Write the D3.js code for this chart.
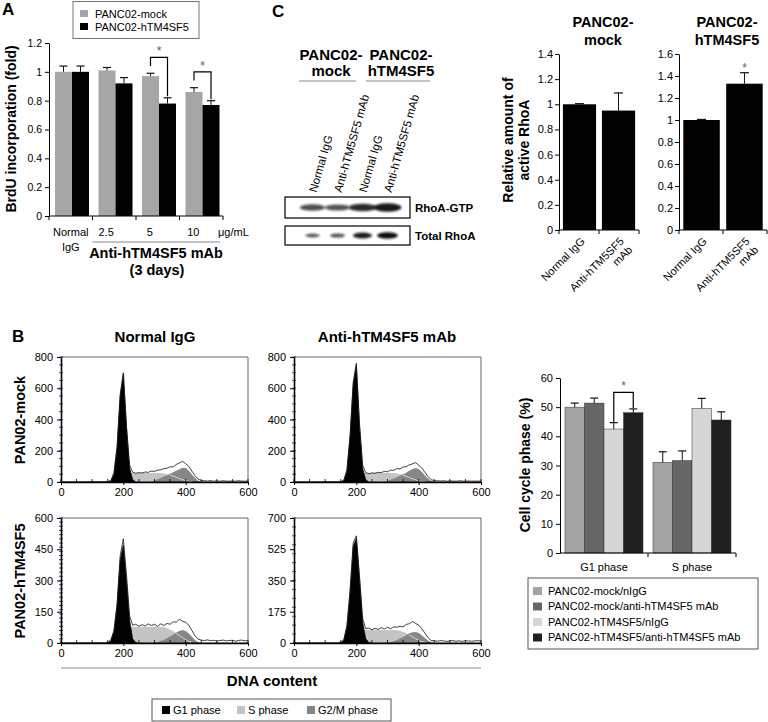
<!DOCTYPE html>
<html><head><meta charset="utf-8">
<script src="https://cdn.jsdelivr.net/npm/d3@7"></script>
<style>body{margin:0;background:#fff}svg{display:block}</style>
</head><body>
<svg id="c" width="768" height="722"></svg>
<script>
// ================= DATA =================
// Panel A
const brduGroups = ["Normal IgG", "2.5", "5", "10"];
const brduSeries = ["PANC02-mock", "PANC02-hTM4SF5"];
const brduMock = [1.00, 1.01, 0.97, 0.86];
const brduMockErr = [0.04, 0.02, 0.02, 0.03];
const brduHtm = [1.00, 0.92, 0.78, 0.77];
const brduHtmErr = [0.04, 0.04, 0.04, 0.03];
const brduTicks = [0, 0.2, 0.4, 0.6, 0.8, 1, 1.2];
const brduSig = ["5", "10"];

// Panel C
const blotLanes = ["mock-IgG", "mock-mAb", "hTM-IgG", "hTM-mAb"];
const blotLaneLabels = ["Normal IgG", "Anti-hTM5SF5 mAb", "Normal IgG", "Anti-hTM5SF5 mAb"];
const blotGtp = [0.55, 0.5, 0.85, 1.0];
const blotTotal = [0.35, 0.4, 0.85, 1.0];
const rhoaCats = ["Normal IgG", "Anti-hTM5SF5 mAb"];
const rhoaCatLines = [["Normal IgG"], ["Anti-hTM5SF5", "mAb"]];
const rhoaMock = [1.00, 0.95];
const rhoaMockErr = [0.005, 0.14];
const rhoaHtm = [1.00, 1.33];
const rhoaHtmErr = [0.005, 0.10];
const rhoaMockTicks = [0, 0.2, 0.4, 0.6, 0.8, 1, 1.2, 1.4];
const rhoaHtmTicks = [0, 0.2, 0.4, 0.6, 0.8, 1, 1.2, 1.4, 1.6];

// Panel B histograms (DNA content bins)
const dnaBins = [0,140,150,160,170,180,190,200,210,220,230,240,250,260,270,280,290,300,310,320,330,340,350,360,370,380,390,400,410,420,430,440,450,460,470,480,490,500,510,520,530,540,550,560,570,580,590,600];
const dnaTicks = [0, 200, 400, 600];
const histTicksMock = [0, 200, 400, 600, 800];
const histTicksHtmIgG = [0, 150, 300, 450, 600];
const histTicksHtmMab = [0, 175, 350, 525, 700];

const totTL = [0,2,3,10,60,230,560,700,360,110,62,56,60,58,64,62,70,68,76,78,86,88,98,96,112,122,132,118,100,70,40,18,10,8,6,9,5,7,5,8,6,5,7,5,8,6,5,7];
const g1TL  = [0,0,0,5,50,220,550,690,350,90,15,0,0,0,0,0,0,0,0,0,0,0,0,0,0,0,0,0,0,0,0,0,0,0,0,0,0,0,0,0,0,0,0,0,0,0,0,0];
const sTL   = [0,0,0,2,10,25,40,50,55,58,58,58,58,58,58,58,58,58,58,57,55,50,45,38,30,22,15,8,4,1,0,0,0,0,0,0,0,0,0,0,0,0,0,0,0,0,0,0];
const g2TL  = [0,0,0,0,0,0,0,0,0,0,0,0,0,0,0,0,2,10,18,26,35,44,53,62,72,82,92,90,72,48,25,8,0,0,0,0,0,0,0,0,0,0,0,0,0,0,0,0];

const totTR = [0,2,3,12,80,300,640,760,380,110,60,54,58,56,62,60,68,66,76,74,86,84,96,98,110,116,124,108,90,62,35,15,9,8,6,8,5,7,6,5,8,6,5,7,5,6,5,7];
const g1TR  = [0,0,0,8,70,290,620,745,360,90,15,0,0,0,0,0,0,0,0,0,0,0,0,0,0,0,0,0,0,0,0,0,0,0,0,0,0,0,0,0,0,0,0,0,0,0,0,0];
const sTR   = [0,0,0,2,12,28,42,50,55,57,57,57,57,57,57,57,57,57,57,57,55,50,44,37,29,21,14,7,3,1,0,0,0,0,0,0,0,0,0,0,0,0,0,0,0,0,0,0];
const g2TR  = [0,0,0,0,0,0,0,0,0,0,0,0,0,0,0,0,0,6,14,22,31,40,50,60,72,84,90,84,66,42,22,8,0,0,0,0,0,0,0,0,0,0,0,0,0,0,0,0];

const totBL = [0,1,3,15,60,190,420,500,330,130,85,90,80,88,82,92,84,90,80,92,84,94,90,102,100,114,104,100,85,60,35,18,14,12,15,11,13,9,12,14,10,12,13,9,12,14,10,12];
const g1BL  = [0,0,0,10,55,180,400,470,300,110,20,2,0,0,0,0,0,0,0,0,0,0,0,0,0,0,0,0,0,0,0,0,0,0,0,0,0,0,0,0,0,0,0,0,0,0,0,0];
const sBL   = [0,0,0,3,15,35,55,68,75,78,78,78,78,78,78,78,78,78,78,78,76,72,65,56,46,36,26,16,8,3,0,0,0,0,0,0,0,0,0,0,0,0,0,0,0,0,0,0];
const g2BL  = [0,0,0,0,0,0,0,0,0,0,0,0,0,0,0,0,0,0,4,10,16,23,31,40,50,58,62,58,46,30,15,5,0,0,0,0,0,0,0,0,0,0,0,0,0,0,0,0];

const totBR = [0,1,4,20,100,300,560,600,380,140,80,84,74,82,76,86,78,88,80,90,88,94,90,104,108,120,110,100,80,55,30,14,12,10,13,12,9,12,13,10,12,9,13,11,10,12,13,11];
const g1BR  = [0,0,0,15,90,280,540,585,360,120,25,3,0,0,0,0,0,0,0,0,0,0,0,0,0,0,0,0,0,0,0,0,0,0,0,0,0,0,0,0,0,0,0,0,0,0,0,0];
const sBR   = [0,0,0,3,14,32,50,62,70,73,73,73,73,73,73,73,73,73,73,73,72,68,62,54,45,35,25,15,8,3,0,0,0,0,0,0,0,0,0,0,0,0,0,0,0,0,0,0];
const g2BR  = [0,0,0,0,0,0,0,0,0,0,0,0,0,0,0,0,0,0,4,10,17,25,34,44,54,60,62,56,44,28,14,4,0,0,0,0,0,0,0,0,0,0,0,0,0,0,0,0];

const phaseLegend = ["G1 phase", "S phase", "G2/M phase"];

// Panel B bar chart
const cellPhases = ["G1 phase", "S phase"];
const cellSeries = ["PANC02-mock/nIgG", "PANC02-mock/anti-hTM4SF5 mAb", "PANC02-hTM4SF5/nIgG", "PANC02-hTM4SF5/anti-hTM4SF5 mAb"];
const cellG1 = [50.0, 51.4, 42.5, 48.1];
const cellG1Err = [1.4, 1.7, 2.2, 1.3];
const cellS = [31.1, 31.7, 49.6, 45.6];
const cellSErr = [3.6, 3.3, 3.4, 2.8];
const cellTicks = [0, 10, 20, 30, 40, 50, 60];

// ================= STYLE =================
const FONT = '"Liberation Sans", Arial, Helvetica, sans-serif';
const brduColors = ["#a6a6a6", "#000000"];
const cellColors = ["#a3a3a3", "#666666", "#d6d6d6", "#1f1f1f"];
const phaseColors = ["#000000", "#c4c4c4", "#868686"];

const svg = d3.select("#c").attr("font-family", FONT);
svg.append("rect").attr("width", 768).attr("height", 722).attr("fill", "#fff");
const defs = svg.append("defs");

function label(parent, x, y, str, size, weight, anchor, rot, fill) {
  const t = parent.append("text").attr("x", x).attr("y", y)
    .attr("font-size", size).attr("font-weight", weight || "normal")
    .attr("text-anchor", anchor || "start").attr("fill", fill || "#000").text(str);
  if (rot) t.attr("transform", `rotate(${rot},${x},${y})`);
  return t;
}
function styleAxis(sel, size) {
  sel.attr("font-family", FONT).attr("font-size", size);
  sel.selectAll("text").attr("fill", "#000");
  sel.selectAll("line,path").attr("stroke", "#000");
}
function errBars(g, data, cap) {
  const e = g.selectAll(null).data(data).enter().append("g");
  e.append("line").attr("x1", d => d.x).attr("x2", d => d.x).attr("y1", d => d.y0).attr("y2", d => d.y1)
    .attr("stroke", "#111").attr("stroke-width", 1);
  e.append("line").attr("x1", d => d.x - cap / 2).attr("x2", d => d.x + cap / 2).attr("y1", d => d.y1).attr("y2", d => d.y1)
    .attr("stroke", "#111").attr("stroke-width", 1.2);
}

// ================= PANEL A =================
(function () {
  const g = svg.append("g");
  const x = d3.scaleBand().domain(brduGroups).range([49, 223]);
  const xi = d3.scaleBand().domain(brduSeries).range([6, 40]);
  const y = d3.scaleLinear().domain([0, 1.2]).range([216, 43]);
  const rows = [];
  brduGroups.forEach((gr, i) => {
    rows.push({ g: gr, s: brduSeries[0], v: brduMock[i], e: brduMockErr[i], c: brduColors[0] });
    rows.push({ g: gr, s: brduSeries[1], v: brduHtm[i], e: brduHtmErr[i], c: brduColors[1] });
  });
  g.selectAll(null).data(rows).enter().append("rect")
    .attr("x", d => x(d.g) + xi(d.s)).attr("width", xi.bandwidth())
    .attr("y", d => y(d.v)).attr("height", d => y(0) - y(d.v)).attr("fill", d => d.c);
  errBars(g, rows.map(d => ({ x: x(d.g) + xi(d.s) + xi.bandwidth() / 2, y0: y(d.v), y1: y(d.v + d.e) })), 8);

  const ya = g.append("g").attr("transform", "translate(49,0)")
    .call(d3.axisLeft(y).tickValues(brduTicks).tickFormat(d3.format("~g")).tickSize(4).tickSizeOuter(0).tickPadding(3));
  styleAxis(ya, 10.5);
  g.append("line").attr("x1", 49).attr("x2", 223).attr("y1", y(0)).attr("y2", y(0)).attr("stroke", "#000");
  const edges = brduGroups.map(d => x(d)).concat([x.range()[1]]);
  g.selectAll(null).data(edges).enter().append("line")
    .attr("x1", d => d).attr("x2", d => d).attr("y1", y(0)).attr("y2", y(0) + 4).attr("stroke", "#000");
  label(g, x(brduGroups[0]) + x.bandwidth() / 2, 236, "Normal", 11, "normal", "middle");
  label(g, x(brduGroups[0]) + x.bandwidth() / 2, 251, "IgG", 11, "normal", "middle");
  brduGroups.slice(1).forEach(d => label(g, x(d) + x.bandwidth() / 2 - 8, 236, d, 11, "normal", "middle"));
  label(g, 218, 236, "\u03bcg/mL", 11);
  g.append("line").attr("x1", x(brduGroups[1])).attr("x2", 220).attr("y1", 242).attr("y2", 242).attr("stroke", "#888");
  label(g, 156, 258, "Anti-hTM4SF5 mAb", 14.5, "bold", "middle");
  label(g, 157, 275, "(3 days)", 14.5, "bold", "middle");
  label(g, 16, 129, "BrdU incorporation (fold)", 14, "bold", "middle", -90);
  label(g, 2, 15, "A", 17, "bold");

  brduSig.forEach(gr => {
    const i = brduGroups.indexOf(gr);
    const xl = x(gr) + xi(brduSeries[0]) + xi.bandwidth() / 2;
    const xr = x(gr) + xi(brduSeries[1]) + xi.bandwidth() / 2;
    const top = y(brduMock[i] + brduMockErr[i] + 0.11);
    g.append("path").attr("d", `M${xl},${y(brduMock[i] + brduMockErr[i] + 0.05)}V${top}H${xr}V${y(brduHtm[i] + brduHtmErr[i] + 0.01)}`)
      .attr("fill", "none").attr("stroke", "#000").attr("stroke-width", 1.2);
    label(g, (xl + xr) / 2, top - 2, "*", 13, "normal", "middle", 0, "#666");
  });

  g.append("rect").attr("x", 73).attr("y", 1.5).attr("width", 126).attr("height", 37).attr("fill", "#fff").attr("stroke", "#777");
  brduSeries.forEach((s, i) => {
    g.append("rect").attr("x", 80).attr("y", 10 + i * 13).attr("width", 8).attr("height", 7).attr("fill", brduColors[i]);
    label(g, 95, 17.5 + i * 13, s, 11);
  });
})();

// ================= PANEL C (blot) =================
(function () {
  const g = svg.append("g");
  defs.append("filter").attr("id", "blur").attr("x", "-50%").attr("y", "-150%").attr("width", "200%").attr("height", "400%")
    .append("feGaussianBlur").attr("stdDeviation", 1.2);
  label(g, 272, 17, "C", 17, "bold");
  label(g, 331, 60, "PANC02-", 15, "bold", "middle");
  label(g, 331, 76, "mock", 15, "bold", "middle");
  label(g, 401, 60, "PANC02-", 15, "bold", "middle");
  label(g, 401, 76, "hTM4SF5", 15, "bold", "middle");
  g.append("line").attr("x1", 299).attr("x2", 356).attr("y1", 81).attr("y2", 81).attr("stroke", "#888");
  g.append("line").attr("x1", 366).attr("x2", 430).attr("y1", 81).attr("y2", 81).attr("stroke", "#888");

  const xl = d3.scaleBand().domain(blotLanes).range([300, 400]);
  const cx = d => xl(d) + xl.bandwidth() / 2;
  g.selectAll(null).data(blotLanes).enter().append("text")
    .attr("x", d => cx(d) + 4).attr("y", 193).attr("font-size", 11.5)
    .attr("transform", d => `rotate(-74,${cx(d) + 4},193)`)
    .text((d, i) => blotLaneLabels[i]);

  g.append("rect").attr("x", 285).attr("y", 197).attr("width", 125).attr("height", 21).attr("fill", "#fff").attr("stroke", "#000").attr("stroke-width", 1.2);
  g.append("rect").attr("x", 285).attr("y", 226).attr("width", 125).attr("height", 19).attr("fill", "#fff").attr("stroke", "#000").attr("stroke-width", 1.2);
  g.selectAll(null).data(blotLanes).enter().append("ellipse")
    .attr("cx", d => cx(d)).attr("cy", 207.5)
    .attr("rx", (d, i) => 11 + 3 * blotGtp[i]).attr("ry", (d, i) => 2 + 2.2 * blotGtp[i])
    .attr("fill", "#111").attr("opacity", (d, i) => 0.45 + 0.5 * blotGtp[i]).attr("filter", "url(#blur)");
  g.selectAll(null).data(blotLanes).enter().append("ellipse")
    .attr("cx", d => cx(d)).attr("cy", 235.5)
    .attr("rx", (d, i) => 5.5 + 5 * blotTotal[i]).attr("ry", (d, i) => 1.2 + 2 * blotTotal[i])
    .attr("fill", "#111").attr("opacity", (d, i) => 0.5 + 0.5 * blotTotal[i]).attr("filter", "url(#blur)");
  label(g, 415, 212, "RhoA-GTP", 11.5, "bold");
  label(g, 415, 240, "Total RhoA", 11.5, "bold");
})();

// ================= PANEL C (bars) =================
function rhoaChart(left, right, max, ticks, vals, errs, title2, star) {
  const g = svg.append("g");
  const x = d3.scaleBand().domain(rhoaCats).range([left, right]).paddingInner(0.15).paddingOuter(0.1);
  const y = d3.scaleLinear().domain([0, max]).range([230, 54]);
  const rows = rhoaCats.map((c, i) => ({ c, v: vals[i], e: errs[i] }));
  g.selectAll(null).data(rows).enter().append("rect")
    .attr("x", d => x(d.c)).attr("width", x.bandwidth()).attr("y", d => y(d.v)).attr("height", d => y(0) - y(d.v)).attr("fill", "#000");
  errBars(g, rows.map(d => ({ x: x(d.c) + x.bandwidth() / 2, y0: y(d.v), y1: y(d.v + d.e) })), 9);
  const ya = g.append("g").attr("transform", `translate(${left},0)`)
    .call(d3.axisLeft(y).tickValues(ticks).tickFormat(d3.format("~g")).tickSize(4).tickSizeOuter(0).tickPadding(2));
  styleAxis(ya, 11);
  g.append("line").attr("x1", left).attr("x2", right).attr("y1", 230).attr("y2", 230).attr("stroke", "#000");
  const tks = [left, (x(rhoaCats[0]) + x.bandwidth() + x(rhoaCats[1])) / 2, right];
  g.selectAll(null).data(tks).enter().append("line").attr("x1", d => d).attr("x2", d => d).attr("y1", 230).attr("y2", 234).attr("stroke", "#000");
  rhoaCats.forEach((c, i) => {
    const ax = x(c) + x.bandwidth() / 2 + 6, ay = 242;
    const t = g.append("text").attr("x", ax).attr("y", ay).attr("font-size", 11).attr("text-anchor", "end")
      .attr("transform", `rotate(-45,${ax},${ay})`);
    rhoaCatLines[i].forEach((ln, j) => t.append("tspan").attr("x", ax).attr("dy", j ? "1.1em" : 0).text(ln));
  });
  const cxm = (left + right) / 2 + 4;
  label(g, cxm, 27, "PANC02-", 14.5, "bold", "middle");
  label(g, cxm, 45, title2, 14.5, "bold", "middle");
  if (star) label(g, x(rhoaCats[1]) + x.bandwidth() / 2, y(vals[1] + errs[1]) - 1, "*", 12, "normal", "middle", 0, "#666");
}
rhoaChart(559, 639, 1.4, rhoaMockTicks, rhoaMock, rhoaMockErr, "mock", false);
rhoaChart(679, 767, 1.6, rhoaHtmTicks, rhoaHtm, rhoaHtmErr, "hTM4SF5", true);
label(svg, 513, 140, "Relative amount of", 14, "bold", "middle", -90);
label(svg, 529, 140, "active RhoA", 14, "bold", "middle", -90);

// ================= PANEL B (histograms) =================
label(svg, 12, 342, "B", 17, "bold");
label(svg, 155, 342, "Normal IgG", 15, "bold", "middle");
label(svg, 387, 342, "Anti-hTM4SF5 mAb", 15, "bold", "middle");
label(svg, 25, 420, "PAN02-mock", 14.5, "bold", "middle", -90);
label(svg, 25, 581, "PAN02-hTM4SF5", 14.5, "bold", "middle", -90);

function hist(c) {
  const g = svg.append("g");
  const x = d3.scaleLinear().domain([0, 600]).range([c.left, c.right]);
  const y = d3.scaleLinear().domain([0, c.max]).range([c.bottom, c.top]);
  const clipId = "clip" + c.left + "_" + c.top;
  defs.append("clipPath").attr("id", clipId).append("rect")
    .attr("x", c.left).attr("y", c.top).attr("width", c.right - c.left).attr("height", c.bottom - c.top);
  const gp = g.append("g").attr("clip-path", `url(#${clipId})`);
  const area = d3.area().x((d, i) => x(dnaBins[i])).y0(y(0)).y1(d => y(d));
  const line = d3.line().x((d, i) => x(dnaBins[i])).y(d => y(d));
  gp.append("path").attr("d", area(c.s)).attr("fill", phaseColors[1]);
  gp.append("path").attr("d", area(c.g2)).attr("fill", phaseColors[2]);
  const sLine = d3.line().x((d, i) => x(dnaBins[i])).y(d => y(d)).defined((d, i) => c.g2[i] > d && d > 0);
  gp.append("path").attr("d", sLine(c.s)).attr("fill", "none").attr("stroke", "#eee").attr("stroke-width", 0.8);
  gp.append("path").attr("d", area(c.g1)).attr("fill", phaseColors[0]);
  gp.append("path").attr("d", line(c.g1)).attr("fill", "none").attr("stroke", "#000").attr("stroke-width", 0.7);
  gp.append("path").attr("d", line(c.tot)).attr("fill", "none").attr("stroke", "#111").attr("stroke-width", 0.8);
  g.append("path").attr("d", `M${c.left},${c.top}H${c.right}V${c.bottom}`).attr("fill", "none").attr("stroke", "#666");
  const ya = g.append("g").attr("transform", `translate(${c.left},0)`)
    .call(d3.axisLeft(y).tickValues(c.ticks).tickSize(4).tickSizeOuter(0).tickPadding(4));
  styleAxis(ya, 11);
  ya.select(".domain").attr("stroke-width", 1.6);
  g.selectAll(null).data(y.ticks(20)).enter().append("line")
    .attr("x1", c.left - 2).attr("x2", c.left + 2).attr("y1", d => y(d)).attr("y2", d => y(d)).attr("stroke", "#000").attr("stroke-width", 0.7);
  const xa = g.append("g").attr("transform", `translate(0,${c.bottom})`)
    .call(d3.axisBottom(x).tickValues(dnaTicks).tickSize(3).tickSizeOuter(0).tickPadding(3));
  styleAxis(xa, 11);
  xa.select(".domain").attr("stroke-width", 1.6);
  g.selectAll(null).data(x.ticks(12)).enter().append("line")
    .attr("x1", d => x(d)).attr("x2", d => x(d)).attr("y1", c.bottom).attr("y2", c.bottom - 3).attr("stroke", "#000").attr("stroke-width", 0.8);
}
hist({ tot: totTL, g1: g1TL, s: sTL, g2: g2TL, max: 800, ticks: histTicksMock, left: 61, right: 248, top: 357, bottom: 482 });
hist({ tot: totTR, g1: g1TR, s: sTR, g2: g2TR, max: 800, ticks: histTicksMock, left: 294, right: 481, top: 357, bottom: 482 });
hist({ tot: totBL, g1: g1BL, s: sBL, g2: g2BL, max: 600, ticks: histTicksHtmIgG, left: 61, right: 248, top: 518, bottom: 643 });
hist({ tot: totBR, g1: g1BR, s: sBR, g2: g2BR, max: 700, ticks: histTicksHtmMab, left: 294, right: 481, top: 518, bottom: 643 });

svg.append("line").attr("x1", 61).attr("x2", 481).attr("y1", 668).attr("y2", 668).attr("stroke", "#888");
label(svg, 272, 686, "DNA content", 15, "bold", "middle");
(function () {
  const g = svg.append("g");
  g.append("rect").attr("x", 152).attr("y", 699).attr("width", 239).attr("height", 22).attr("fill", "#fff").attr("stroke", "#555");
  const xs = [162, 237, 307];
  phaseLegend.forEach((p, i) => {
    g.append("rect").attr("x", xs[i]).attr("y", 706).attr("width", 8).attr("height", 8).attr("fill", phaseColors[i]);
    label(g, xs[i] + 11, 714, p, 11);
  });
})();

// ================= PANEL B (cell-cycle bars) =================
(function () {
  const g = svg.append("g");
  const x = d3.scaleBand().domain(cellPhases).range([560, 736]);
  const xi = d3.scaleBand().domain(cellSeries).range([5, 83]);
  const y = d3.scaleLinear().domain([0, 60]).range([553, 378]);
  const rows = [];
  cellSeries.forEach((s, i) => {
    rows.push({ p: cellPhases[0], s, v: cellG1[i], e: cellG1Err[i], c: cellColors[i] });
    rows.push({ p: cellPhases[1], s, v: cellS[i], e: cellSErr[i], c: cellColors[i] });
  });
  g.selectAll(null).data(rows).enter().append("rect")
    .attr("x", d => x(d.p) + xi(d.s)).attr("width", xi.bandwidth())
    .attr("y", d => y(d.v)).attr("height", d => y(0) - y(d.v)).attr("fill", d => d.c)
    .attr("stroke", "#333").attr("stroke-width", 0.5);
  errBars(g, rows.map(d => ({ x: x(d.p) + xi(d.s) + xi.bandwidth() / 2, y0: y(d.v), y1: y(d.v + d.e) })), 8);
  const ya = g.append("g").attr("transform", "translate(560,0)")
    .call(d3.axisLeft(y).tickValues(cellTicks).tickSize(4).tickSizeOuter(0).tickPadding(3));
  styleAxis(ya, 11);
  g.append("line").attr("x1", 560).attr("x2", 736).attr("y1", 553).attr("y2", 553).attr("stroke", "#000");
  g.selectAll(null).data([x(cellPhases[1]), x.range()[1]]).enter().append("line")
    .attr("x1", d => d).attr("x2", d => d).attr("y1", 553).attr("y2", 557).attr("stroke", "#000");
  cellPhases.forEach(p => label(g, x(p) + x.bandwidth() / 2, 571, p, 11, "normal", "middle"));
  label(g, 530, 465, "Cell cycle phase (%)", 14, "bold", "middle", -90);
  const xl = x(cellPhases[0]) + xi(cellSeries[2]) + xi.bandwidth() / 2;
  const xr = x(cellPhases[0]) + xi(cellSeries[3]) + xi.bandwidth() / 2;
  const top = y(cellG1[3] + cellG1Err[3] + 5.7);
  g.append("path").attr("d", `M${xl},${y(cellG1[2] + cellG1Err[2] + 0.3)}V${top}H${xr}V${y(cellG1[3] + cellG1Err[3] + 0.3)}`)
    .attr("fill", "none").attr("stroke", "#000").attr("stroke-width", 1.2);
  label(g, (xl + xr) / 2, top - 2, "*", 12, "normal", "middle", 0, "#666");
  g.append("rect").attr("x", 528).attr("y", 578).attr("width", 230).attr("height", 71).attr("fill", "#fff").attr("stroke", "#555");
  cellSeries.forEach((s, i) => {
    g.append("rect").attr("x", 533).attr("y", 587 + i * 15.5).attr("width", 9).attr("height", 8).attr("fill", cellColors[i]);
    label(g, 548, 594.5 + i * 15.5, s, 11);
  });
})();
</script>
</body></html>
